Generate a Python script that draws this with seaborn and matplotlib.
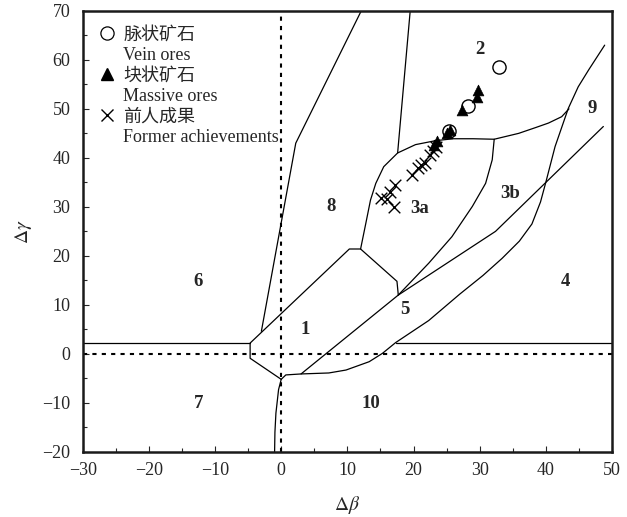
import seaborn as sns
import matplotlib.pyplot as plt
from matplotlib.lines import Line2D

# --- data ---
# boundary lines (delta beta, delta gamma)
h_left_x = [-30, -4.7]
h_left_y = [2.2, 2.2]
h_right_x = [17.3, 50]
h_right_y = [2.2, 2.2]
poly1_x = [0, -4.7, -4.7, 10.3, 12.0, 17.5, 17.7]
poly1_y = [-5.2, -0.9, 2.2, 21.4, 21.4, 14.8, 12.0]
foot_x = [-1.0, -0.95, -0.8, -0.4, 0]
foot_y = [-20, -16, -12.1, -7.3, -5.2]
lineD_x = [0, 0.7, 3.0, 7.2, 9.8, 13.3, 15.3, 17.3, 22.3, 27, 30.5, 33.4, 36, 37.9,
           39.2, 40.0, 41.4, 43.4, 44.9, 46.5, 48.9]
lineD_y = [-5.2, -4.3, -4.1, -3.9, -3.3, -1.6, 0.1, 2.3, 6.8, 12.2, 16, 19.5, 23, 26.5,
           31, 35, 42.3, 50.1, 54.5, 58, 63.0]
lineC_x = [3.0, 17.7, 32.4, 48.7]
lineC_y = [-4.1, 12.0, 25.0, 46.4]
lineA_x = [-3.0, 2.2, 12.1]
lineA_y = [4.6, 43.0, 70]
lineB_x = [17.6, 19.5]
lineB_y = [41, 70]
curve3a_x = [12.0, 12.8, 13.5, 14.3, 15.5, 17.6, 20.3, 23.3, 26.0, 29.0, 32.2, 35.9,
             38.5, 40.4, 42.4, 43.5]
curve3a_y = [21.4, 26.7, 31.4, 34.8, 38.2, 41.0, 42.7, 43.5, 43.9, 43.9, 43.8, 45.0,
             46.2, 47.1, 48.4, 50.0]
curve3b_x = [17.7, 22.3, 25.8, 28.9, 30.9, 31.9, 32.2]
curve3b_y = [12.0, 18.5, 23.9, 30.1, 34.8, 39.6, 43.8]

boundaries = [(h_left_x, h_left_y), (h_right_x, h_right_y), (poly1_x, poly1_y),
              (foot_x, foot_y), (lineD_x, lineD_y), (lineC_x, lineC_y),
              (lineA_x, lineA_y), (lineB_x, lineB_y), (curve3a_x, curve3a_y),
              (curve3b_x, curve3b_y)]

# samples
vein_x = [33.0, 28.3, 25.4]
vein_y = [58.5, 50.6, 45.4]
massive_x = [29.8, 29.6, 27.3, 25.0, 25.5, 23.6, 23.1]
massive_y = [53.9, 52.4, 49.7, 45.0, 45.6, 43.4, 42.7]
former_x = [23.4, 23.0, 22.5, 21.7, 21.2, 20.7, 19.7, 17.2, 16.4, 15.1, 16.0, 17.1]
former_y = [42.3, 41.4, 40.6, 39.0, 38.6, 37.9, 36.5, 34.5, 33.0, 31.8, 31.6, 29.9]

# field labels
field_names = ["1", "2", "3a", "3b", "4", "5", "6", "7", "8", "9", "10"]
field_x = [3.7, 30.0, 20.9, 34.6, 42.9, 18.7, -12.5, -12.5, 7.6, 47.0, 13.6]
field_y = [4.9, 62.2, 29.7, 32.8, 14.8, 9.0, 14.7, -10.2, 30.1, 50.1, -10.1]

sns.set_style("ticks", {"xtick.direction": "in", "ytick.direction": "in"})
plt.rcParams["font.family"] = ["Liberation Serif", "Noto Sans CJK SC"]
plt.rcParams["mathtext.fontset"] = "stix"
plt.rcParams["axes.unicode_minus"] = True

fig = plt.figure(figsize=(6.27, 5.17), dpi=100)
ax = fig.add_axes([0.132, 0.126, 0.844, 0.853])

for bx, by in boundaries:
    sns.lineplot(x=bx, y=by, sort=False, estimator=None, color="black",
                 linewidth=0.9, ax=ax)

ax.axvline(0, color="black", linestyle=(0, (2, 2.5)), linewidth=1.5)
ax.axhline(0, color="black", linestyle=(0, (2, 2.5)), linewidth=1.5)

sns.scatterplot(x=former_x, y=former_y, marker="x", s=70, color="black",
                linewidth=1.0, ax=ax)
sns.scatterplot(x=vein_x, y=vein_y, marker="o", s=90, facecolor="white",
                edgecolor="black", linewidth=1.0, ax=ax, zorder=3)
sns.scatterplot(x=massive_x, y=massive_y, marker="^", s=60, color="black",
                edgecolor="black", linewidth=0.5, ax=ax, zorder=4)

for name, fx, fy in zip(field_names, field_x, field_y):
    ax.text(fx, fy, name, fontsize=13.5, fontweight="bold", ha="center", va="center")

ax.set_xlim(-30, 50)
ax.set_ylim(-20, 70)
ax.set_xticks(range(-30, 51, 10))
ax.set_yticks(range(-20, 71, 10))
ax.set_xticks(range(-25, 50, 10), minor=True)
ax.set_yticks(range(-15, 70, 10), minor=True)
ax.tick_params(which="major", length=4, width=0.8, labelsize=13)
ax.tick_params(axis="x", which="major", pad=7)
ax.tick_params(axis="y", which="major", pad=9)
ax.tick_params(which="minor", length=3, width=0.8)
for sp in ax.spines.values():
    sp.set_linewidth(1.8)
    sp.set_color("#1a1a1a")
ax.set_xlabel(r"$\Delta\beta$", fontsize=14, labelpad=11)
ax.set_ylabel(r"$\Delta\gamma$", fontsize=14, labelpad=6)

blank = Line2D([], [], linestyle="none", marker="")
handles = [
    Line2D([], [], linestyle="none", marker="o", markersize=9.5, markerfacecolor="white",
           markeredgecolor="black", markeredgewidth=0.9), blank,
    Line2D([], [], linestyle="none", marker="^", markersize=8.5, color="black"), blank,
    Line2D([], [], linestyle="none", marker="x", markersize=8.5, color="black",
           markeredgewidth=1.0), blank,
]
labels = ["脉状矿石", "Vein ores", "块状矿石", "Massive ores", "前人成果",
          "Former achievements"]
ax.legend(handles, labels, loc="upper left", bbox_to_anchor=(0.0, 1.0),
          frameon=False, fontsize=13, handlelength=1.0, handletextpad=0.4,
          labelspacing=0.2, borderaxespad=0.45)

fig.savefig("out.png", dpi=100)
